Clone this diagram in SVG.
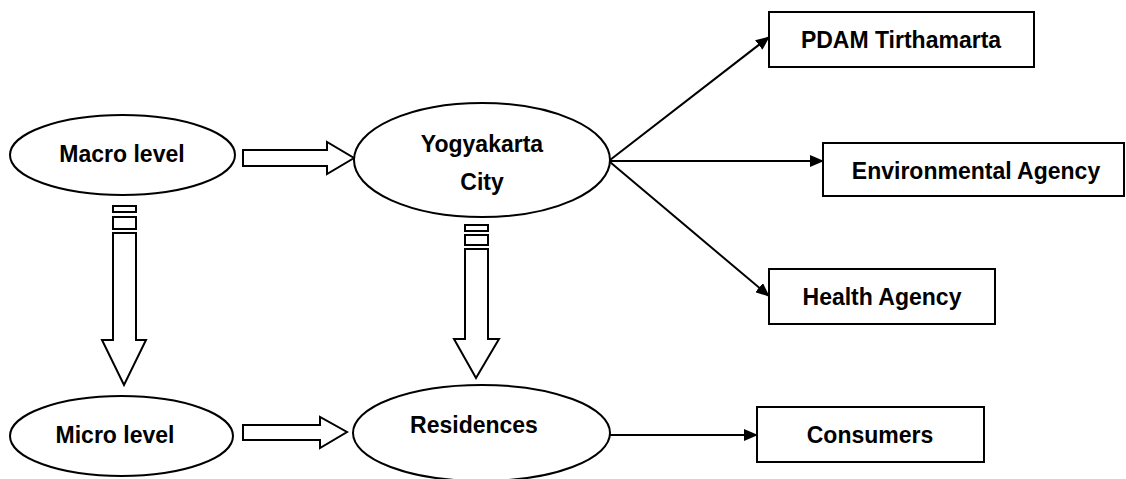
<svg xmlns="http://www.w3.org/2000/svg" width="1126" height="479" viewBox="0 0 1126 479">
<style>
.shape{fill:#fff;stroke:#000;stroke-width:2}
.blk{fill:#fff;stroke:#000;stroke-width:2;stroke-linejoin:miter}
.conn{stroke:#000;stroke-width:2;fill:none}
text{font-family:"Liberation Sans",Arial,sans-serif;font-weight:bold;font-size:23px;fill:#000;text-anchor:middle}
</style>
<defs>
<marker id="ah" markerWidth="14" markerHeight="12" refX="13" refY="6" orient="auto" markerUnits="userSpaceOnUse">
<path d="M0,0 L14,6 L0,12 Z" fill="#000"/>
</marker>
</defs>
<rect width="1126" height="479" fill="#fff"/>
<g id="connectors">
<polygon class="blk" points="243,150 327,150 327,142 354,158 327,174 327,166 243,166"/>
<polygon class="blk" points="243,425 320,425 320,417 347,432 320,448 320,440 243,440"/>
<rect class="blk" x="113" y="206" width="23" height="6"/>
<rect class="blk" x="113" y="217" width="23" height="12"/>
<polygon class="blk" points="113,233 136,233 136,340 146,340 124,385 102,340 113,340"/>
<rect class="blk" x="465" y="225" width="23" height="6"/>
<rect class="blk" x="465" y="235" width="23" height="10"/>
<polygon class="blk" points="465,249 488,249 488,339 499,339 476,378 454,339 465,339"/>
<line class="conn" x1="610" y1="160" x2="769" y2="37" marker-end="url(#ah)"/>
<line class="conn" x1="610" y1="161" x2="823" y2="161" marker-end="url(#ah)"/>
<line class="conn" x1="610" y1="162" x2="769" y2="296" marker-end="url(#ah)"/>
<line class="conn" x1="609" y1="435" x2="757" y2="435" marker-end="url(#ah)"/>
</g>
<g id="macro">
<ellipse class="shape" cx="122.5" cy="155" rx="112.5" ry="40"/>
<text x="122" y="162">Macro level</text>
</g>
<g id="yogyakarta">
<ellipse class="shape" cx="482" cy="160" rx="128" ry="57"/>
<text x="482" y="152">Yogyakarta</text>
<text x="482" y="190">City</text>
</g>
<g id="micro">
<ellipse class="shape" cx="121.5" cy="436" rx="111.5" ry="40"/>
<text x="115" y="443">Micro level</text>
</g>
<g id="residences">
<ellipse class="shape" cx="481.5" cy="433" rx="128.5" ry="48"/>
<text x="474" y="433">Residences</text>
</g>
<g id="pdam">
<rect class="shape" x="769" y="12" width="265" height="55"/>
<text x="901" y="48">PDAM Tirthamarta</text>
</g>
<g id="environmental">
<rect class="shape" x="823" y="143" width="301" height="53"/>
<text x="976" y="179">Environmental Agency</text>
</g>
<g id="health">
<rect class="shape" x="769" y="269" width="226" height="55"/>
<text x="882" y="305">Health Agency</text>
</g>
<g id="consumers">
<rect class="shape" x="757" y="407" width="227" height="55"/>
<text x="870" y="443">Consumers</text>
</g>
</svg>
